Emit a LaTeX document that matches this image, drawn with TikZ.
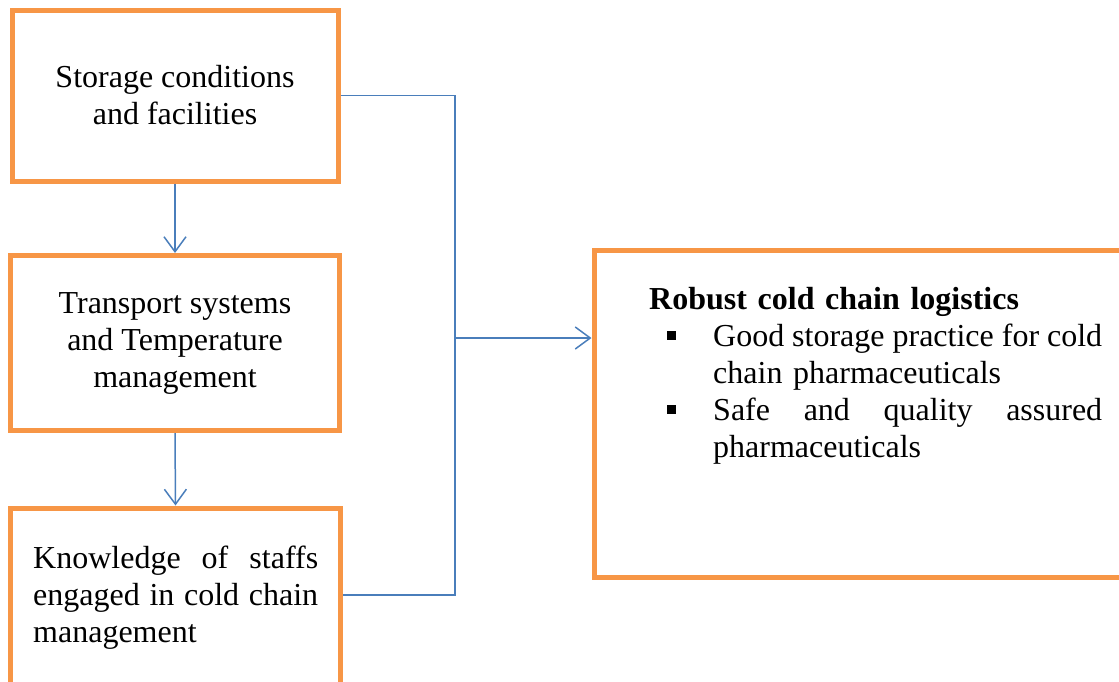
\documentclass[tikz,border=0pt]{standalone}
\usepackage{fontspec}
\setmainfont{Liberation Serif}
\usetikzlibrary{arrows.meta}
\definecolor{boxorange}{HTML}{F79646}
\definecolor{linkblue}{HTML}{4A7EBB}
\tikzset{
  obox/.style={draw=boxorange, line width=5pt, fill=white, inner sep=0pt},
  btext/.style={font=\fontsize{32}{37}\selectfont, align=center, inner sep=0pt},
  link/.style={draw=linkblue, line width=1.5pt},
  arr/.style={link, -{Straight Barb[length=15pt, width=22pt, line width=1.5pt]}}
}
\begin{document}
\begin{tikzpicture}[x=1pt,y=-1pt]
\useasboundingbox (0,0) rectangle (1119,681);
% boxes
\node[obox, minimum width=326pt, minimum height=171pt] (box1) at (175,95.5)
  [btext] {Storage conditions\\and facilities};
\node[obox, minimum width=329pt, minimum height=175pt] (box2) at (175,343)
  [btext] {Transport systems\\and Temperature\\management};
\node[obox, minimum width=330pt, minimum height=230pt] (box3) at (175.5,623) {};
\node[btext, align=left, text width=285pt, anchor=base west] (box3text) at (33,568)
  {\makebox[285pt][l]{Knowledge\hfill of\hfill staffs}\\
   \makebox[285pt][l]{engaged\hfill in\hfill cold\hfill chain}\\
   management};
\node[obox, minimum width=540pt, minimum height=327pt] (box4) at (864,414) {};
\node[btext, align=left, text width=460pt, anchor=base west] (box4text) at (649,309)
  {\textbf{Robust cold chain logistics}\\
   \leavevmode\hspace*{18pt}\raisebox{6pt}{\rule{9pt}{9pt}}\hspace*{37pt}\makebox[389pt][l]{Good\hfill storage\hfill practice\hfill for\hfill cold}\\
   \hspace*{64pt}chain pharmaceuticals\\
   \leavevmode\hspace*{18pt}\raisebox{6pt}{\rule{9pt}{9pt}}\hspace*{37pt}\makebox[389pt][l]{Safe\hfill and\hfill quality\hfill assured}\\
   \hspace*{64pt}pharmaceuticals};
% connectors
\coordinate (jtop) at (455,95.5);
\coordinate (jbot) at (455,595);
\coordinate (jmid) at (455,338);
\draw[arr] (box1.south) -- (box2.north);
\draw[arr] (box2.south) -- (box3.north);
\draw[link] (box1.east) -- (jtop) -- (jbot) -- (box3.east |- jbot);
\draw[arr] (jmid) -- (box4.west |- jmid);
\end{tikzpicture}
\end{document}
